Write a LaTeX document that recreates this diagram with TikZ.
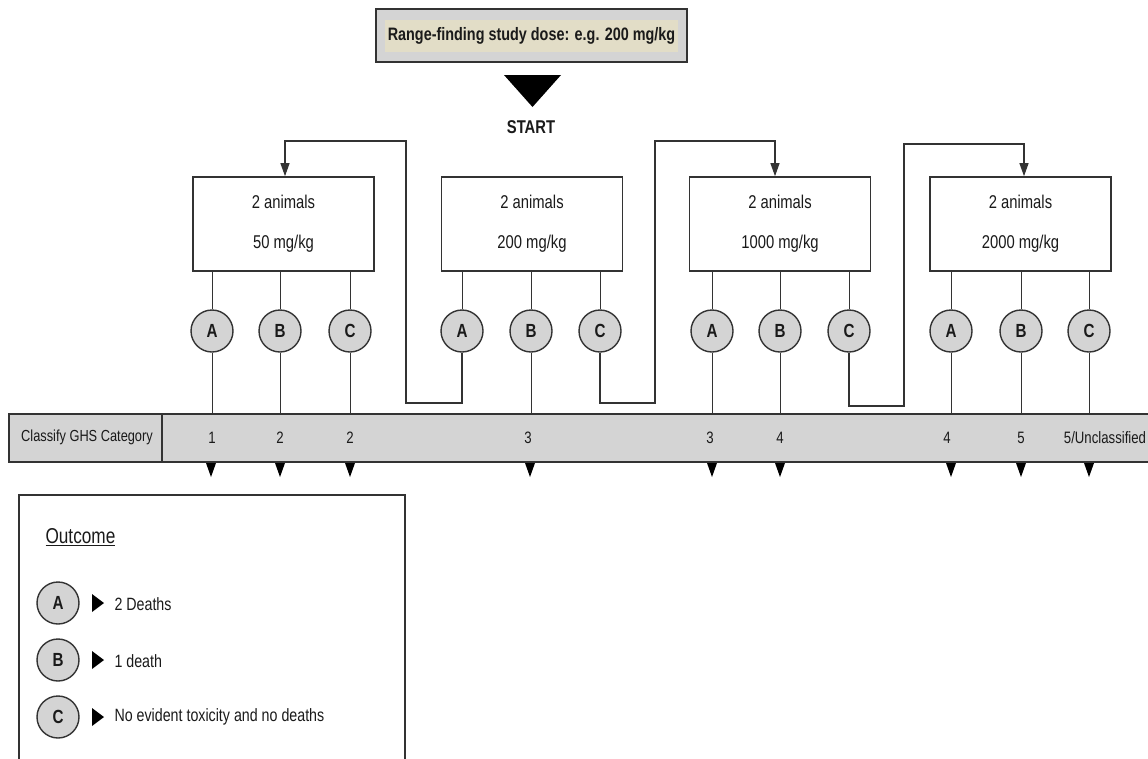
\documentclass[tikz,border=0pt]{standalone}
\usepackage{fontspec}
\setmainfont{Liberation Sans}[FakeStretch=0.8]
\usetikzlibrary{arrows.meta}
\definecolor{fillg}{HTML}{D4D4D4}
\definecolor{beige}{HTML}{E2DDC7}
\definecolor{ln}{HTML}{333333}
\definecolor{txt}{HTML}{1A1A1A}
\newcommand\myfs[1]{\fontsize{#1}{#1}\selectfont}
\begin{document}
\begin{tikzpicture}[x=1pt,y=-1pt,
  dosebox/.style={draw=ln,line width=1.6pt,fill=white,minimum width=181pt,minimum height=94pt,inner sep=0pt,align=center,text=txt,font=\fontsize{18.5}{40}\selectfont},
  outc/.style={circle,draw=ln,line width=1.4pt,fill=fillg,minimum size=42pt,inner sep=0pt,text=txt,font=\myfs{19}\bfseries},
  link/.style={draw=ln,line width=1pt},
  flow/.style={draw=ln,line width=1.1pt,-{Triangle[length=13pt,width=9pt]}},
  cat/.style={text=txt,font=\myfs{16.5},anchor=center},
  legtxt/.style={text=txt,font=\myfs{17.8},anchor=west}
]
\useasboundingbox (0,0) rectangle (1148,758);

% top box
\node[draw=ln,line width=1.6pt,fill=fillg,minimum width=311pt,minimum height=53pt,inner sep=0pt] (top) at (531.5,35.5) {};
\node[fill=beige,minimum width=293pt,minimum height=32pt,inner sep=0pt,text=txt,font=\myfs{18}\bfseries] (toptxt) at (531.5,35.5) {Range-finding study dose: e.g. 200 mg/kg};
\fill[black] (504,75) -- (561,75) -- (532.5,107) -- cycle;
\node[text=txt,font=\myfs{18.5}\bfseries] (start) at (531,127) {START};

% dose boxes
\node[dosebox] (b1) at (283.5,224) {2 animals\\50 mg/kg};
\node[dosebox] (b2) at (532,224) {2 animals\\200 mg/kg};
\node[dosebox] (b3) at (780,224) {2 animals\\1000 mg/kg};
\node[dosebox] (b4) at (1020.5,224) {2 animals\\2000 mg/kg};

% outcome circles
\node[outc] (c1a) at (212,331) {A};
\node[outc] (c1b) at (280,331) {B};
\node[outc] (c1c) at (350,331) {C};
\node[outc] (c2a) at (462,331) {A};
\node[outc] (c2b) at (531,331) {B};
\node[outc] (c2c) at (600,331) {C};
\node[outc] (c3a) at (712,331) {A};
\node[outc] (c3b) at (780,331) {B};
\node[outc] (c3c) at (849,331) {C};
\node[outc] (c4a) at (951,331) {A};
\node[outc] (c4b) at (1021,331) {B};
\node[outc] (c4c) at (1089,331) {C};

% classification bar
\node[fill=fillg,minimum width=1139pt,minimum height=48pt,inner sep=0pt,anchor=north west] (bar) at (9,414) {};
\draw[ln,line width=2pt] (bar.north east) -- (bar.north west) -- (bar.south west) -- (bar.south east);
\draw[ln,line width=1.2pt] (162,414) -- (162,462);
\node[text=txt,font=\myfs{16}] (cls) at (87,437) {Classify GHS Category};

% box to circle links
\foreach \b/\c in {b1/c1a,b1/c1b,b1/c1c,b2/c2a,b2/c2b,b2/c2c,b3/c3a,b3/c3b,b3/c3c,b4/c4a,b4/c4b,b4/c4c}
  \draw[link] (\c.north) -- (\c.north |- \b.south);
% circle to bar links
\foreach \c in {c1a,c1b,c1c,c2b,c3a,c3b,c4a,c4b,c4c}
  \draw[link] (\c.south) -- (\c.south |- bar.north);

% loop connectors
\coordinate (j1) at (285,141);
\coordinate (j2) at (775,141);
\coordinate (j3) at (1024,144);
\draw[flow] (c2a.south) |- (406,403) |- (j1) -- (j1 |- b1.north);
\draw[flow] (c2c.south) |- (655,403) |- (j2) -- (j2 |- b3.north);
\draw[flow] (c3c.south) |- (904,406) |- (j3) -- (j3 |- b4.north);

% categories
\node[cat] (k1) at (c1a |- 0,438) {1};
\node[cat] (k2) at (c1b |- 0,438) {2};
\node[cat] (k3) at (c1c |- 0,438) {2};
\node[cat] (k4) at (528,438) {3};
\node[cat] (k5) at (710,438) {3};
\node[cat] (k6) at (780,438) {4};
\node[cat] (k7) at (947,438) {4};
\node[cat] (k8) at (1021,438) {5};
\node[cat] (k9) at (1105,438) {5/Unclassified};

% down markers
\foreach \x in {211,280,350,530,712,780,951,1021,1089}
  \fill[black] (\x-5,463) -- (\x+5,463) -- (\x,477) -- cycle;

% legend
\draw[ln,line width=1.4pt] (19,760) -- (19,495) -- (405,495) -- (405,760);
\node[text=txt,font=\myfs{21.5},anchor=west] (oc) at (42,537) {\underline{Outcome}};
\node[outc] (la) at (58,603) {A};
\node[outc] (lb) at (58,660) {B};
\node[outc] (lc) at (58,717) {C};
\foreach \y in {603,660,717}
  \fill[black] (92,\y-9) -- (104,\y) -- (92,\y+9) -- cycle;
\node[legtxt] (ta) at (111,604) {2 Deaths};
\node[legtxt] (tb) at (111,661) {1 death};
\node[legtxt] (tc) at (111,717) {No evident toxicity and no deaths};
\end{tikzpicture}
\end{document}
